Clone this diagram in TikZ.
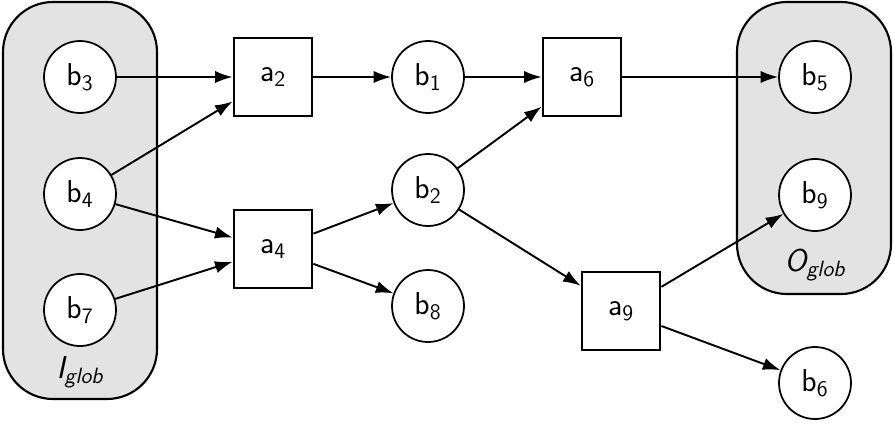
\documentclass[tikz,border=0pt]{standalone}
\usepackage{tikz}
\usetikzlibrary{arrows.meta, positioning}

\begin{document}
\begin{tikzpicture}[x=0.02cm, y=-0.02cm,
    place/.style={circle, draw, line width=1pt, fill=white, minimum size=1.44cm, inner sep=0pt},
    trans/.style={rectangle, draw, line width=1.6pt, fill=white, minimum size=1.56cm, inner sep=0pt},
    arc/.style={-{Latex[length=10pt, width=7pt]}, line width=1.1pt},
    group/.style={draw, line width=1.2pt, fill=gray!22, rounded corners=1cm},
    font=\fontsize{18}{20}\selectfont\sffamily]

    \useasboundingbox (0,0) rectangle (895,423);

    % global input and output sets
    \draw[group] (3,2) rectangle (157,399);
    \draw[group] (737,2) rectangle (891,294);
    \node (iglob) at (80,372) {\itshape I\textsubscript{glob}};
    \node (oglob) at (815,265) {\itshape O\textsubscript{glob}};

    % places
    \node[place] (b3) at (80,77) {b\textsubscript{3}};
    \node[place] (b4) at (80,194) {b\textsubscript{4}};
    \node[place] (b7) at (80,310) {b\textsubscript{7}};
    \node[place] (b1) at (428,77) {b\textsubscript{1}};
    \node[place] (b2) at (428,190) {b\textsubscript{2}};
    \node[place] (b8) at (428,306) {b\textsubscript{8}};
    \node[place] (b5) at (815,77) {b\textsubscript{5}};
    \node[place] (b9) at (815,195) {b\textsubscript{9}};
    \node[place] (b6) at (815,383) {b\textsubscript{6}};

    % transitions
    \node[trans] (a2) at (273,77) {a\textsubscript{2}};
    \node[trans] (a4) at (273,249) {a\textsubscript{4}};
    \node[trans] (a6) at (582,77) {a\textsubscript{6}};
    \node[trans] (a9) at (621,311) {a\textsubscript{9}};

    % arcs
    \draw[arc] (b3) -- (a2);
    \draw[arc] (b4) -- (a2);
    \draw[arc] (b4) -- (a4);
    \draw[arc] (b7) -- (a4);
    \draw[arc] (a2) -- (b1);
    \draw[arc] (a4) -- (b2);
    \draw[arc] (a4) -- (b8);
    \draw[arc] (b1) -- (a6);
    \draw[arc] (b2) -- (a6);
    \draw[arc] (b2) -- (a9);
    \draw[arc] (a6) -- (b5);
    \draw[arc] (a9) -- (b9);
    \draw[arc] (a9) -- (b6);

\end{tikzpicture}
\end{document}
